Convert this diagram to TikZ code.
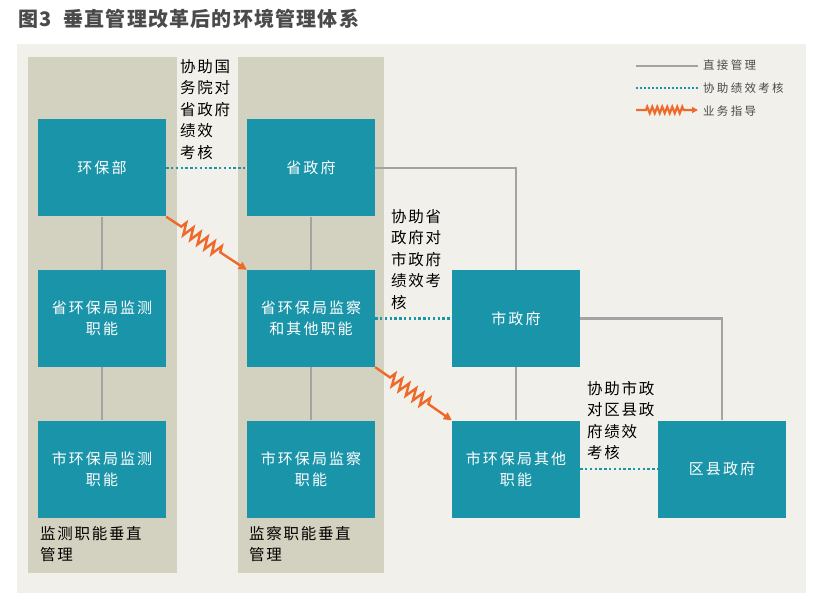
\documentclass[tikz,border=0pt]{standalone}
\usepackage{fontspec}
\setmainfont{Noto Sans CJK SC}
\usetikzlibrary{arrows.meta,decorations.pathmorphing}
\definecolor{panelbg}{HTML}{F1F0EB}
\definecolor{colbg}{HTML}{D3D1BF}
\definecolor{boxteal}{HTML}{1A94A9}
\definecolor{linegrey}{HTML}{A3A3A3}
\definecolor{guideorange}{HTML}{EE6A2A}
\definecolor{titlegrey}{HTML}{4A4A4A}
\tikzset{
  orgbox/.style={fill=boxteal, text=white, minimum width=128pt, minimum height=97pt,
    inner sep=0pt, align=center, font=\fontsize{15}{21}\selectfont\addfontfeature{LetterSpace=14}},
  direct/.style={draw=linegrey, line width=2.6pt},
  assist/.style={draw=boxteal, line width=2.4pt, dash pattern=on 2.4pt off 2.4pt},
  guide/.style={draw=guideorange, line width=2.4pt,
    -{Triangle[length=8pt,width=8pt]},
    decorate, decoration={zigzag, segment length=8.5pt, amplitude=6pt,
      pre length=18pt, post length=28pt}},
  lgguide/.style={draw=guideorange, line width=2.2pt,
    -{Triangle[length=6pt,width=6pt]},
    decorate, decoration={zigzag, segment length=5pt, amplitude=3.2pt,
      pre length=10pt, post length=14pt}},
  note/.style={anchor=north west, align=left, inner sep=0pt, text=black,
    font=\fontsize{15.5}{21.5}\selectfont\addfontfeature{LetterSpace=11}},
  lgtext/.style={anchor=west, inner sep=0pt, text=titlegrey,
    font=\fontsize{11.5}{12}\selectfont\addfontfeature{LetterSpace=20}},
}
\begin{document}
\begin{tikzpicture}[x=1pt,y=-1pt]
\useasboundingbox (0,0) rectangle (823,615);
\fill[white] (0,0) rectangle (823,615);
\node[anchor=west, inner sep=0pt, text=titlegrey, font=\fontsize{20}{22}\selectfont\bfseries\addfontfeature{LetterSpace=6}] (title) at (18,19) {图3\hspace{0.6em}垂直管理改革后的环境管理体系};
\fill[panelbg] (17,44) rectangle (806,593);
\fill[colbg] (28,57) rectangle (177,573);
\fill[colbg] (238,57) rectangle (384,573);

% boxes
\node[orgbox] (hbb) at (102,168) {环保部};
\node[orgbox] (szf) at (311,168) {省政府};
\node[orgbox] (sjc) at (102,318.5) {省环保局监测\\职能};
\node[orgbox] (sjk) at (311,318.5) {省环保局监察\\和其他职能};
\node[orgbox] (shijc) at (102,469) {市环保局监测\\职能};
\node[orgbox] (shijk) at (311,469) {市环保局监察\\职能};
\node[orgbox] (shizf) at (516,318.5) {市政府};
\node[orgbox] (shiqt) at (516,469) {市环保局其他\\职能};
\node[orgbox] (qx) at (722,469) {区县政府};

% direct management
\draw[direct] (hbb) -- (sjc);
\draw[direct] (sjc) -- (shijc);
\draw[direct] (szf) -- (sjk);
\draw[direct] (sjk) -- (shijk);
\draw[direct] (szf.east) -| (shizf.north);
\draw[direct] (shizf) -- (shiqt);
\draw[direct] (shizf.east) -| (qx.north);

% assist assessment
\draw[assist] (hbb.east) -- (szf.west);
\draw[assist] (sjk.east) -- (shizf.west);
\draw[assist] (shiqt.east) -- (qx.west);

% business guidance
\draw[guide] (hbb.south east) -- (sjk.north west);
\draw[guide] (sjk.south east) -- (shiqt.north west);

% notes
\node[note] (n1) at (180,59) {协助国\\务院对\\省政府\\绩效\\考核};
\node[note] (n2) at (391,209) {协助省\\政府对\\市政府\\绩效考\\核};
\node[note] (n3) at (587,381) {协助市政\\对区县政\\府绩效\\考核};
\node[note] (c1) at (40,526) {监测职能垂直\\管理};
\node[note] (c2) at (249,526) {监察职能垂直\\管理};

% legend
\coordinate (l1a) at (636,66); \coordinate (l1b) at (698,66);
\coordinate (l2a) at (636,88); \coordinate (l2b) at (698,88);
\coordinate (l3a) at (636,110); \coordinate (l3b) at (698,110);
\draw[direct, line width=2pt] (l1a) -- (l1b);
\draw[assist, line width=2pt, dash pattern=on 2pt off 2pt] (l2a) -- (l2b);
\draw[lgguide] (l3a) -- (l3b);
\node[lgtext] (t1) at (703,65) {直接管理};
\node[lgtext] (t2) at (703,88) {协助绩效考核};
\node[lgtext] (t3) at (703,111) {业务指导};
\end{tikzpicture}
\end{document}
